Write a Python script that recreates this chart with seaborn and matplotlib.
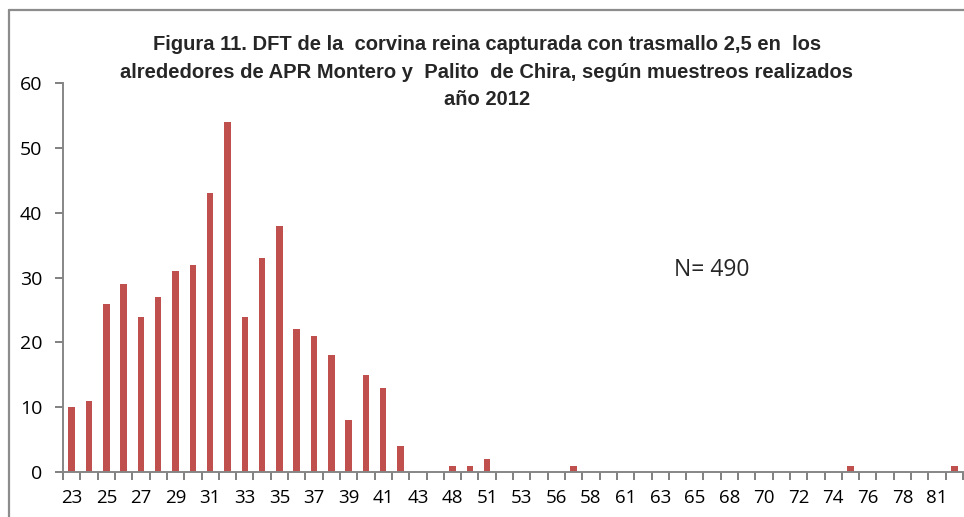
import matplotlib
matplotlib.use("Agg")
import matplotlib.pyplot as plt
from matplotlib.lines import Line2D
import seaborn as sns
import pandas as pd
import numpy as np

lengths = [23, 24, 25, 26, 27, 28, 29, 30, 31, 32, 33, 34, 35, 36, 37, 38, 39, 40, 41, 42, 43,
           46, 48, 50, 51, 52, 53, 55, 56, 57, 58, 60, 61, 62, 63, 64, 65, 66, 68, 69, 70, 71,
           72, 73, 74, 75, 76, 77, 78, 80, 81, 82]
counts = [10, 11, 26, 29, 24, 27, 31, 32, 43, 54, 24, 33, 38, 22, 21, 18, 8, 15, 13, 4, 0,
          0, 1, 1, 2, 0, 0, 0, 0, 1, 0, 0, 0, 0, 0, 0, 0, 0, 0, 0, 0, 0,
          0, 0, 0, 1, 0, 0, 0, 0, 0, 1]
title_lines = ["Figura 11. DFT de la  corvina reina capturada con trasmallo 2,5 en  los",
               "alrededores de APR Montero y  Palito  de Chira, según muestreos realizados",
               "año 2012"]
annotation = "N= 490"

sns.set_theme(style="ticks")
plt.rcParams['font.family'] = ['Liberation Sans Narrow', 'Liberation Sans', 'DejaVu Sans']

df = pd.DataFrame({"talla": [str(v) for v in lengths], "n": counts})
order = [str(v) for v in lengths]

fig = plt.figure(figsize=(9.64, 5.17), dpi=100)
ax = fig.add_axes([0.0654, 0.087, 0.9336, 0.752])
sns.barplot(data=df, x="talla", y="n", order=order, color="#C0504D", saturation=1,
            width=0.37, ax=ax, edgecolor="none")

ax.set_xlim(-0.5, len(lengths) - 0.5)
ax.set_ylim(0, 60)
ax.set_yticks(range(0, 61, 10))
ax.set_yticklabels([str(v) for v in range(0, 61, 10)], fontsize=14, family=['Open Sans'])
# tick marks at category boundaries (major), labels at every other category centre (minor)
ax.set_xticks(np.arange(-0.5, len(lengths), 1))
ax.set_xticklabels([])
ax.set_xticks(range(0, len(lengths), 2), minor=True)
ax.set_xticklabels(order[::2], minor=True, fontsize=13.5, family=['Open Sans'])
ax.tick_params(axis='x', which='minor', bottom=True, length=0, pad=12, labelcolor='black')
ax.tick_params(axis='x', which='major', bottom=True, length=5.5, width=1.4, color='#808080', direction='out')
ax.tick_params(axis='y', which='major', left=True, length=6, width=1.4, color='#808080', pad=9,
               labelcolor='black', direction='out')
ax.set_xlabel("")
ax.set_ylabel("")
for s in ['top', 'right']:
    ax.spines[s].set_visible(False)
for s in ['left', 'bottom']:
    ax.spines[s].set_color('#868686')
    ax.spines[s].set_linewidth(1.4)

ax.text(37.0, 31.2, annotation, fontsize=16.5, ha='center', va='center', family=['Open Sans'])

ys = [0.913, 0.860, 0.807]
for t, y in zip(title_lines, ys):
    fig.text(0.505, y, t, fontsize=14.5, fontweight='bold', ha='center', va='center')

fig.add_artist(Line2D([0.0093, 0.0093], [0.0, 0.981], transform=fig.transFigure, color='#8c8c8c', lw=1.6))
fig.add_artist(Line2D([0.0093, 1.0], [0.981, 0.981], transform=fig.transFigure, color='#8c8c8c', lw=1.6))

fig.savefig("out.png", dpi=100)
